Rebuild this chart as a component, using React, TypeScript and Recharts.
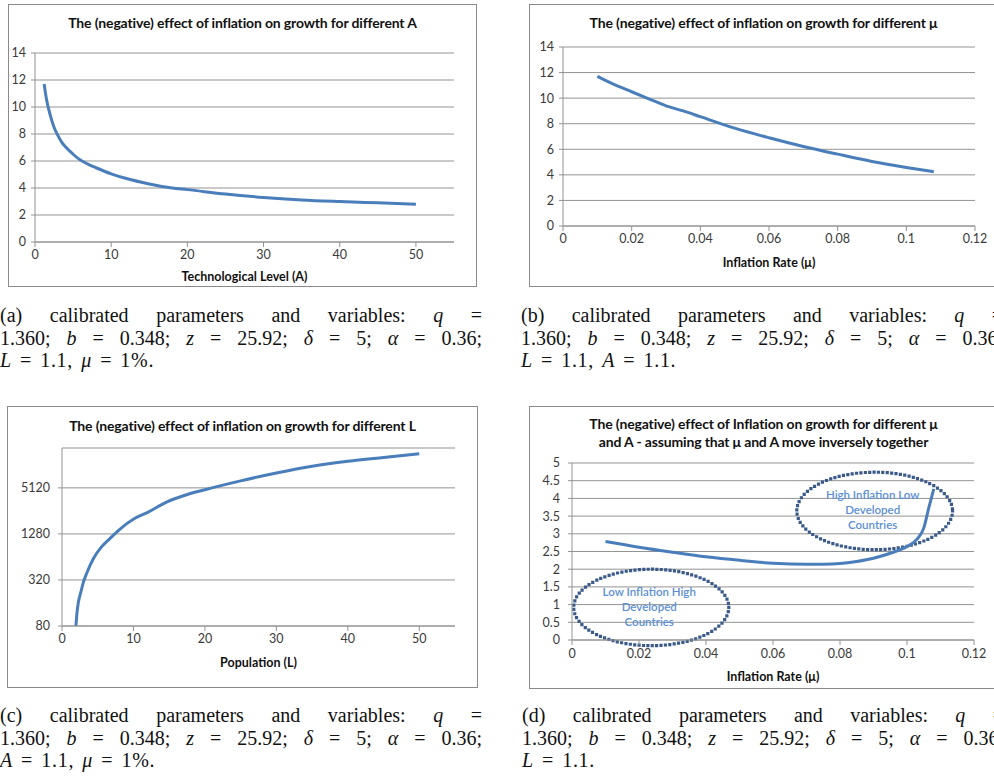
import React from 'react';
import { LineChart, Line, XAxis, YAxis, CartesianGrid, ReferenceArea } from 'recharts';

// (a) growth effect vs technological level A
const levelA = [1.2, 1.5, 2, 2.5, 3, 3.5, 4, 5, 6, 7, 8, 10, 12, 15, 18, 20, 25, 30, 35, 40, 45, 50];
const effectA = [11.7, 10.6, 9.4, 8.5, 7.9, 7.4, 7.05, 6.5, 6.05, 5.75, 5.5, 5.05, 4.7, 4.3, 4.0, 3.88, 3.55, 3.3, 3.12, 3.0, 2.9, 2.8];
const ticksA_X = [0, 10, 20, 30, 40, 50];
const ticksA_Y = [0, 2, 4, 6, 8, 10, 12, 14];

// (b) growth effect vs inflation rate mu
const rateB = [0.01, 0.015, 0.02, 0.025, 0.03, 0.035, 0.04, 0.05, 0.06, 0.07, 0.08, 0.09, 0.1, 0.108];
const effectB = [11.7, 11.05, 10.5, 9.95, 9.4, 9.0, 8.55, 7.65, 6.9, 6.22, 5.62, 5.05, 4.58, 4.25];
const ticksB_X = [0, 0.02, 0.04, 0.06, 0.08, 0.1, 0.12];
const ticksB_Y = [0, 2, 4, 6, 8, 10, 12, 14];

// (c) growth effect vs population L (log axis)
const popC = [1.95, 2.1, 2.3, 2.6, 3, 3.5, 4.4, 5.5, 6.7, 8, 10.2, 12, 14.7, 17, 20, 25, 30, 35, 40, 45, 50];
const effectC = [80, 120, 165, 215, 300, 400, 610, 860, 1110, 1450, 2050, 2450, 3360, 4040, 4840, 6320, 8000, 9800, 11400, 12800, 14300];
const ticksC_X = [0, 10, 20, 30, 40, 50];
const ticksC_Y = [80, 320, 1280, 5120];

// (d) growth effect vs inflation, mu and A moving inversely
const rateD = [0.01, 0.02, 0.03, 0.04, 0.05, 0.06, 0.07, 0.075, 0.08, 0.085, 0.09, 0.095, 0.1, 0.103, 0.105, 0.1065, 0.108];
const effectD = [2.78, 2.62, 2.48, 2.35, 2.25, 2.17, 2.14, 2.14, 2.16, 2.22, 2.31, 2.45, 2.64, 2.85, 3.16, 3.73, 4.27];
const ticksD_X = [0, 0.02, 0.04, 0.06, 0.08, 0.1, 0.12];
const ticksD_Y = [0, 0.5, 1, 1.5, 2, 2.5, 3, 3.5, 4, 4.5, 5];
const ovalLow = { x1: 0.0005, x2: 0.0468, y1: -0.16, y2: 2.0, lines: ['Low Inflation High', 'Developed', 'Countries'] };
const ovalHigh = { x1: 0.0671, x2: 0.1136, y1: 2.55, y2: 4.74, lines: ['High Inflation Low', 'Developed', 'Countries'] };

const rows = (xs: number[], ys: number[]) => xs.map((x, i) => ({ x, y: ys[i] }));

const GRID = '#939393';
const LINE = '#4a7ebb';
const FONT = 'Lato, "Open Sans", sans-serif';
const tickStyle = { fontFamily: FONT, fontSize: 12.5, fill: '#3a3a3a' };
const axisLabelStyle = { fontFamily: FONT, fontSize: 12.5, fontWeight: 700, fill: '#111' };

function Panel({ left, top, width, height, children }: any) {
  return (
    <div style={{ position: 'absolute', left, top, width, height, boxSizing: 'border-box', border: '1px solid #8a8a8a', background: '#fff' }}>
      {children}
    </div>
  );
}

function Title({ top, children }: any) {
  return (
    <div style={{ position: 'absolute', left: 0, top, width: '100%', textAlign: 'center', fontFamily: FONT, fontWeight: 700, fontSize: 14, letterSpacing: -0.15, lineHeight: '18px', color: '#111', zIndex: 2 }}>
      {children}
    </div>
  );
}

const makeOval = (lines: string[]) => (props: any) => {
  const { x, y, width, height } = props;
  const cx = x + width / 2;
  const cy = y + height / 2;
  return (
    <g>
      <ellipse cx={cx} cy={cy} rx={width / 2} ry={height / 2} fill="none" stroke="#3b5a8a" strokeWidth={3.2} strokeDasharray="0 4.4" strokeLinecap="square" />
      {lines.map((t, i) => (
        <text key={i} x={cx - 2} y={cy + (i - 1) * 15 - 1} textAnchor="middle" dominantBaseline="central" fontFamily={FONT} fontSize={11.5} fontWeight={600} fill="#5b8fd4">
          {t}
        </text>
      ))}
    </g>
  );
};

function Caption({ left, top, tag, last }: any) {
  const lineStyle: any = { position: 'absolute', left: 0, width: 482, height: 20, lineHeight: '20px', whiteSpace: 'nowrap' };
  const just: any = { ...lineStyle, textAlign: 'justify', textAlignLast: 'justify', whiteSpace: 'normal' };
  return (
    <div style={{ position: 'absolute', left, top, width: 482, fontFamily: '"Liberation Serif", "DejaVu Serif", serif', fontSize: 20, color: '#111' }}>
      <div style={{ ...just, top: 0 }}>({tag}) calibrated parameters and variables: <i>q</i> =</div>
      <div style={{ ...just, top: 22.5 }}>1.360; <i>b</i> = 0.348; <i>z</i> = 25.92; <i>δ</i> = 5; <i>α</i> = 0.36;</div>
      <div style={{ ...lineStyle, top: 45, letterSpacing: 0.7, wordSpacing: 2.5 }}>{last}</div>
    </div>
  );
}

export default function App() {
  return (
    <div style={{ position: 'absolute', left: 0, top: 0, width: 994, height: 776, overflow: 'hidden', background: '#fff' }}>
      {/* (a) */}
      <Panel left={8} top={4} width={469} height={283}>
        <Title top={9}>The (negative) effect of inflation on growth for different A</Title>
        <LineChart width={467} height={281} data={rows(levelA, effectA)} margin={{ top: 48, right: 22, left: 0, bottom: 0 }}>
          <CartesianGrid vertical={false} stroke={GRID} />
          <XAxis type="number" dataKey="x" domain={[0, 55]} ticks={ticksA_X} interval={0} height={44} stroke={GRID} tickSize={5} tickMargin={3} tick={tickStyle}
            label={{ value: 'Technological  Level (A)', position: 'insideBottom', offset: 5, style: axisLabelStyle }} />
          <YAxis type="number" domain={[0, 14]} ticks={ticksA_Y} interval={0} width={26} stroke={GRID} tickSize={4} tickMargin={5} tick={tickStyle} />
          <Line type="monotone" dataKey="y" stroke={LINE} strokeWidth={3} dot={false} isAnimationActive={false} />
        </LineChart>
      </Panel>

      {/* (b) */}
      <Panel left={529} top={4} width={469} height={283}>
        <Title top={9}>The (negative) effect of inflation on growth for different μ</Title>
        <LineChart width={467} height={281} data={rows(rateB, effectB)} margin={{ top: 42, right: 22, left: 0, bottom: 0 }}>
          <CartesianGrid vertical={false} stroke={GRID} />
          <XAxis type="number" dataKey="x" domain={[0, 0.12]} ticks={ticksB_X} interval={0} height={60} stroke={GRID} tickSize={5} tickMargin={3} tick={tickStyle}
            label={{ value: 'Inflation  Rate (μ)', position: 'insideBottom', offset: 19, style: axisLabelStyle }} />
          <YAxis type="number" domain={[0, 14]} ticks={ticksB_Y} interval={0} width={33} stroke={GRID} tickSize={4} tickMargin={5} tick={tickStyle} />
          <Line type="monotone" dataKey="y" stroke={LINE} strokeWidth={3} dot={false} isAnimationActive={false} />
        </LineChart>
      </Panel>

      <Caption left={0} top={305} tag="a" last={<span><i>L</i> = 1.1, <i>μ</i> = 1%.</span>} />
      <Caption left={521} top={305} tag="b" last={<span><i>L</i> = 1.1, <i>A</i> = 1.1.</span>} />

      {/* (c) */}
      <Panel left={7} top={406} width={471} height={282}>
        <Title top={10}>The (negative) effect of inflation on growth for different L</Title>
        <LineChart width={469} height={280} data={rows(popC, effectC)} margin={{ top: 41, right: 22, left: 0, bottom: 0 }}>
          <CartesianGrid vertical={false} stroke={GRID} />
          <XAxis type="number" dataKey="x" domain={[0, 55]} ticks={ticksC_X} interval={0} height={61} stroke={GRID} tickSize={5} tickMargin={3} tick={tickStyle}
            label={{ value: 'Population  (L)', position: 'insideBottom', offset: 20, style: axisLabelStyle }} />
          <YAxis type="number" scale="log" domain={[80, 17000]} allowDataOverflow ticks={ticksC_Y} interval={0} width={54} stroke={GRID} tickSize={4} tickMargin={8} tick={tickStyle} />
          <Line type="monotone" dataKey="y" stroke={LINE} strokeWidth={3} dot={false} isAnimationActive={false} />
        </LineChart>
      </Panel>

      {/* (d) */}
      <Panel left={529} top={406} width={469} height={283}>
        <Title top={8}>
          The (negative) effect of Inflation on growth for different μ<br />and A - assuming that μ and A move inversely together
        </Title>
        <LineChart width={467} height={281} data={rows(rateD, effectD)} margin={{ top: 56, right: 23, left: 0, bottom: 0 }}>
          <CartesianGrid vertical={false} stroke={GRID} />
          <XAxis type="number" dataKey="x" domain={[0, 0.12]} ticks={ticksD_X} interval={0} height={48} stroke={GRID} tickSize={5} tickMargin={4} tick={tickStyle}
            label={{ value: 'Inflation  Rate (μ)', position: 'insideBottom', offset: 7, style: axisLabelStyle }} />
          <YAxis type="number" domain={[0, 5]} ticks={ticksD_Y} interval={0} width={42} stroke={GRID} tickSize={4} tickMargin={8} tick={tickStyle} />
          <Line type="monotone" dataKey="y" stroke={LINE} strokeWidth={3} dot={false} isAnimationActive={false} />
          <ReferenceArea x1={ovalLow.x1} x2={ovalLow.x2} y1={ovalLow.y1} y2={ovalLow.y2} ifOverflow="visible" shape={makeOval(ovalLow.lines)} />
          <ReferenceArea x1={ovalHigh.x1} x2={ovalHigh.x2} y1={ovalHigh.y1} y2={ovalHigh.y2} ifOverflow="visible" shape={makeOval(ovalHigh.lines)} />
        </LineChart>
      </Panel>

      <Caption left={0} top={705} tag="c" last={<span><i>A</i> = 1.1, <i>μ</i> = 1%.</span>} />
      <Caption left={522} top={705} tag="d" last={<span><i>L</i> = 1.1.</span>} />
    </div>
  );
}
